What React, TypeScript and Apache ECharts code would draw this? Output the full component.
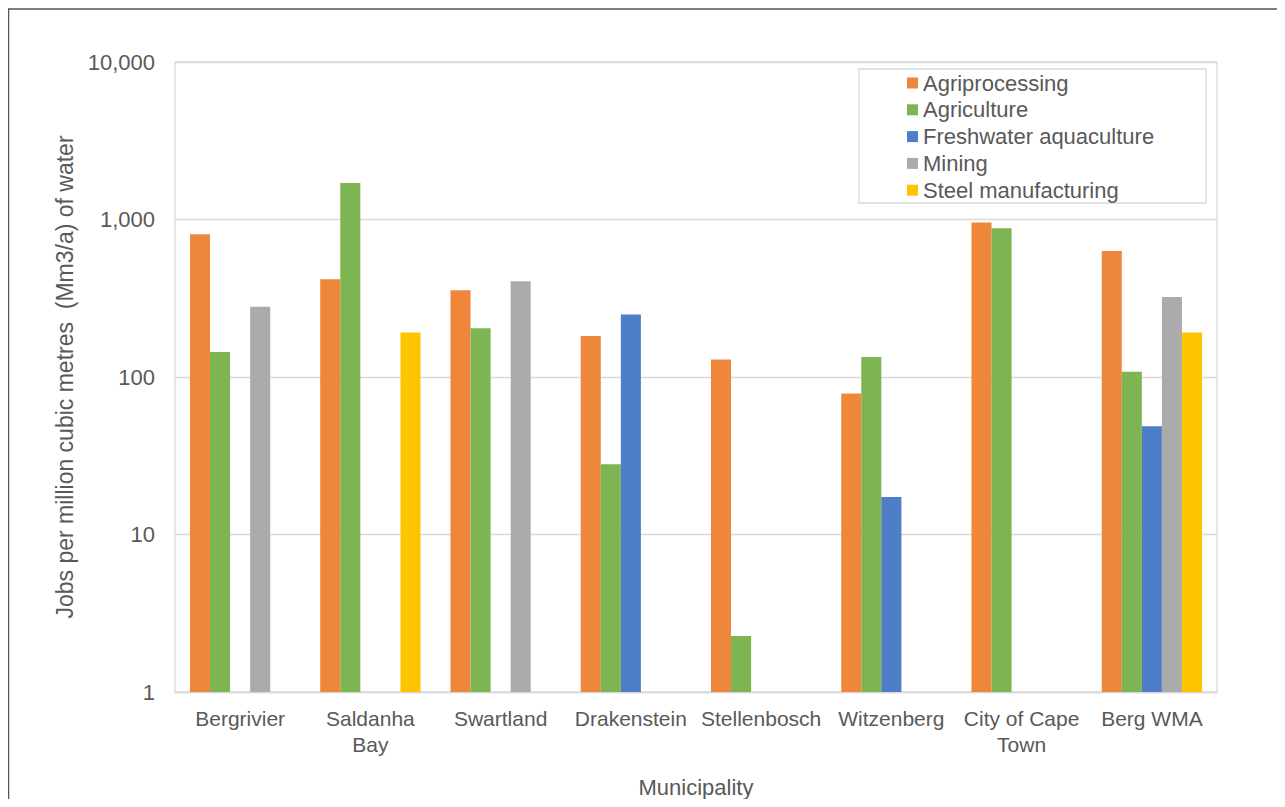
import React, { useEffect, useRef } from "react";
import * as echarts from "echarts";

const categories = [
  "Bergrivier",
  "Saldanha\nBay",
  "Swartland",
  "Drakenstein",
  "Stellenbosch",
  "Witzenberg",
  "City of Cape\nTown",
  "Berg WMA",
];

const seriesNames = [
  "Agriprocessing",
  "Agriculture",
  "Freshwater aquaculture",
  "Mining",
  "Steel manufacturing",
];

const agriprocessing = [806, 418, 356, 182, 129, 78.6, 956, 631];
const agriculture = [144, 1706, 204, 27.9, 2.27, 134, 879, 108];
const freshwater = [null, null, null, 249, null, 17.3, null, 48.7];
const mining = [279, null, 405, null, null, null, null, 322];
const steel = [null, 192, null, null, null, null, null, 192];

const yTicks = [1, 10, 100, 1000, 10000];

const colors = ["#EE873C", "#7DB553", "#4E7EC8", "#ABABAB", "#FFC400"];

const FONT = "'Liberation Sans', Arial, Helvetica, sans-serif";
const TEXT = "#595959";

export default function App() {
  const ref = useRef<HTMLDivElement>(null);

  useEffect(() => {
    if (!ref.current) return;
    const chart = echarts.init(ref.current, undefined, { renderer: "svg" });
    const data = [agriprocessing, agriculture, freshwater, mining, steel];
    chart.setOption({
      animation: false,
      textStyle: { fontFamily: FONT },
      grid: {
        left: 167,
        top: 54,
        right: 60,
        bottom: 107,
        show: true,
        borderColor: "#d9d9d9",
        borderWidth: 1.3,
        containLabel: false,
        outerBoundsMode: "none",
      },
      legend: {
        orient: "vertical",
        left: 899,
        top: 64,
        itemWidth: 11,
        itemHeight: 11,
        itemGap: 4.8,
        itemTextGap: 8,
        icon: "rect",
        padding: 0,
        data: seriesNames,
        textStyle: { color: TEXT, fontSize: 22, fontFamily: FONT, lineHeight: 22 },
      },
      graphic: [
        {
          type: "line",
          shape: { x1: 0.5, y1: 1, x2: 0.5, y2: 800 },
          style: { stroke: "#555555", lineWidth: 1.5 },
        },
        {
          type: "line",
          shape: { x1: 0, y1: 1, x2: 1300, y2: 1 },
          style: { stroke: "#555555", lineWidth: 1.5 },
        },
        {
          type: "rect",
          z: -1,
          shape: { x: 851, y: 61, width: 347, height: 134 },
          style: { fill: "#ffffff", stroke: "#d9d9d9", lineWidth: 1.3 },
        },
      ],
      xAxis: {
        type: "category",
        data: categories,
        name: "Municipality",
        nameLocation: "middle",
        nameGap: 84,
        nameTextStyle: { color: TEXT, fontSize: 22, fontFamily: FONT },
        axisLine: { show: true, lineStyle: { color: "#d9d9d9", width: 1.3 } },
        axisTick: { show: false },
        axisLabel: {
          color: TEXT,
          fontSize: 21,
          fontFamily: FONT,
          lineHeight: 26,
          margin: 13,
          interval: 0,
        },
      },
      yAxis: {
        type: "log",
        logBase: 10,
        min: 1,
        max: 10000,
        name: "Jobs per million cubic metres  (Mm3/a) of water",
        nameLocation: "middle",
        nameGap: 92,
        nameRotate: 90,
        nameTextStyle: { color: TEXT, fontSize: 23, fontFamily: FONT },
        axisLine: { show: false },
        axisTick: { show: false },
        splitLine: { show: true, lineStyle: { color: "#d9d9d9", width: 1.3 } },
        axisLabel: {
          color: TEXT,
          fontSize: 22,
          fontFamily: FONT,
          margin: 20,
          formatter: (v: number) => {
            const r = yTicks.find((t) => Math.abs(t - v) / t < 1e-6);
            return r !== undefined ? r.toLocaleString("en-US") : "";
          },
        },
      },
      series: seriesNames.map((name, i) => ({
        name,
        type: "bar",
        data: data[i].map((v) => (v === null ? "-" : v)),
        itemStyle: { color: colors[i] },
        barGap: "0%",
        barCategoryGap: "23%",
      })),
    });
    return () => chart.dispose();
  }, []);

  return <div ref={ref} style={{ width: 1269, height: 791 }} />;
}
